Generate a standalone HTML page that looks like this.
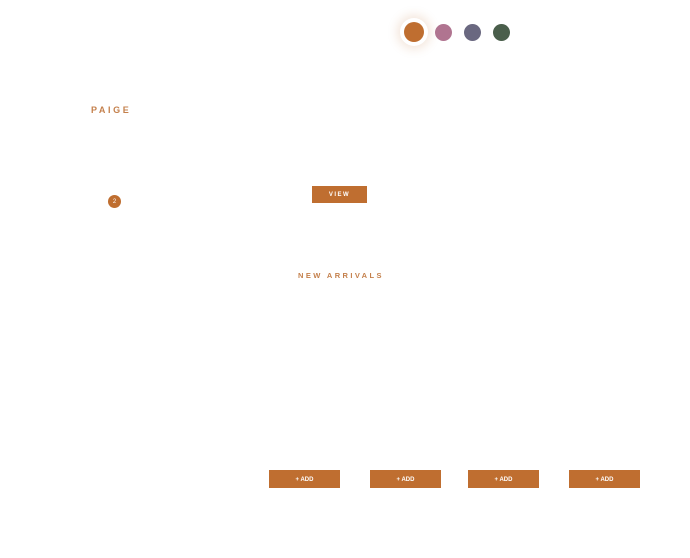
<!DOCTYPE html>
<html><head><style>
body{margin:0;width:690px;height:558px;background:#fff;position:relative;overflow:hidden;font-family:"Liberation Sans",sans-serif}
.a{position:absolute}
.c{position:absolute;border-radius:50%}
.btn{position:absolute;background:#bf6e30;color:#fff;font-weight:bold;text-align:center}
</style></head><body>
<div class="c" style="left:400px;top:18px;width:28px;height:28px;background:#fff;box-shadow:0 0 10px 3px rgba(191,110,48,0.18)"></div>
<div class="c" style="left:404px;top:22px;width:20px;height:20px;background:#bf6e30"></div>
<div class="c" style="left:435px;top:24px;width:17px;height:17px;background:#b07490"></div>
<div class="c" style="left:464px;top:24px;width:17px;height:17px;background:#6a6880"></div>
<div class="c" style="left:493px;top:24px;width:17px;height:17px;background:#4a5e4b"></div>
<div class="a" style="left:91px;top:105px;font-size:9px;letter-spacing:2.6px;color:#c4804c;font-weight:bold">PAIGE</div>
<div class="c" style="left:108px;top:195px;width:13px;height:13px;background:#bf6e30;color:#fff;font-size:6px;line-height:15px;text-align:center">2</div>
<div class="btn" style="left:312px;top:186px;width:55px;height:17px;font-size:6px;line-height:19px;letter-spacing:1.5px">VIEW</div>
<div class="a" style="left:298px;top:271px;font-size:7.5px;letter-spacing:2.4px;color:#c4804c;font-weight:bold">NEW ARRIVALS</div>
<div class="btn" style="left:269px;top:470px;width:71px;height:18px;font-size:6px;line-height:21px">+ ADD</div>
<div class="btn" style="left:370px;top:470px;width:71px;height:18px;font-size:6px;line-height:21px">+ ADD</div>
<div class="btn" style="left:468px;top:470px;width:71px;height:18px;font-size:6px;line-height:21px">+ ADD</div>
<div class="btn" style="left:569px;top:470px;width:71px;height:18px;font-size:6px;line-height:21px">+ ADD</div>
</body></html>
